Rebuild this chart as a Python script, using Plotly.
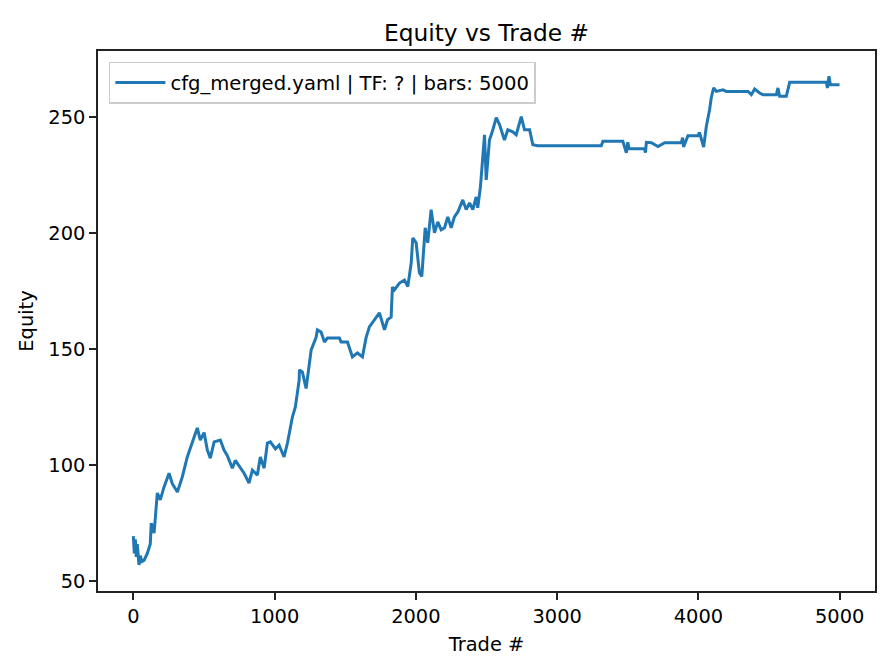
import plotly.graph_objects as go

# Trade number and equity values
trade_idx = [0, 7, 14, 21, 28, 40, 50, 60, 76, 99, 120, 127, 147, 170, 191, 217, 253, 276, 312, 347,
             382, 404, 430, 453, 474, 501, 524, 545, 572, 616, 642, 666, 701, 722, 758, 784, 819, 843,
             878, 899, 926, 949, 970, 1006, 1032, 1067, 1091, 1110, 1126, 1147, 1174, 1176, 1197, 1223,
             1259, 1294, 1303, 1329, 1353, 1374, 1459, 1471, 1516, 1551, 1586, 1622, 1648, 1671, 1707,
             1742, 1778, 1799, 1825, 1834, 1848, 1884, 1919, 1943, 1967, 1978, 2002, 2025, 2042, 2066,
             2084, 2108, 2132, 2155, 2179, 2203, 2226, 2250, 2273, 2297, 2332, 2356, 2380, 2403, 2427,
             2438, 2457, 2474, 2486, 2498, 2521, 2545, 2569, 2592, 2627, 2651, 2686, 2710, 2746, 2769,
             2805, 2828, 2863, 3312, 3324, 3465, 3477, 3490, 3500, 3510, 3619, 3625, 3632, 3667, 3714,
             3761, 3879, 3888, 3895, 3926, 3997, 4008, 4037, 4056, 4079, 4091, 4108, 4127, 4174, 4198,
             4351, 4375, 4398, 4433, 4457, 4552, 4563, 4575, 4622, 4646, 4906, 4913, 4924, 4934, 4999]
equity = [69.4, 62, 68, 60.5, 66, 57, 61, 58.5, 59, 62, 66, 75, 70.7, 88, 85, 90.5, 96.5, 92, 88.4, 95,
          103.5, 107.8, 112, 116, 110.8, 114, 106.5, 103, 110, 110.8, 106.5, 104, 98.7, 102, 99, 96.5,
          92.3, 97.8, 95.7, 103.5, 98.7, 109.5, 110, 107, 108.6, 103.5, 109.5, 115, 120.7, 125, 136.6,
          141, 140, 133, 149.6, 155, 158.2, 157.3, 153, 154.7, 154.7, 153, 153, 146.6, 148.3, 146.6,
          155, 159.5, 162.5, 165.5, 158.2, 162.5, 163.8, 176.7, 175.4, 178.4, 179.7, 176.9, 187, 197.8,
          195.7, 182.8, 181.2, 202.2, 195.7, 210, 200, 204.7, 201.3, 202.2, 206.9, 202.2, 206.9, 209,
          214.2, 210, 212.9, 210, 215.5, 210.8, 219.8, 232.8, 242.2, 222.8, 240, 244.4, 249.6, 246.6,
          240, 244.4, 243.5, 242.2, 250, 244.4, 244.4, 237.9, 237.5, 237.5, 239.4, 239.4, 236.6, 234.5,
          239, 236.2, 236.2, 234.5, 239, 238.8, 237.2, 238.8, 238.8, 241, 237, 241.8, 241.8, 243.2,
          236.9, 245.8, 253, 258.2, 262.4, 260.9, 261.6, 260.9, 260.9, 259.5, 261.9, 260.2, 259.5,
          259.5, 262.4, 258.8, 258.8, 264.8, 264.8, 262.4, 267.4, 263.8, 263.8]

x_ticks = [0, 1000, 2000, 3000, 4000, 5000]
y_ticks = [50, 100, 150, 200, 250]
series_name = "cfg_merged.yaml | TF: ? | bars: 5000"

FONT = "DejaVu Sans"

fig = go.Figure()
fig.add_trace(go.Scatter(
    x=trade_idx, y=equity, mode="lines", name=series_name,
    line=dict(color="#1f77b4", width=3),
))

axis_common = dict(
    showline=True, mirror=True, linecolor="#222222", linewidth=1.5,
    ticks="outside", ticklen=7, tickwidth=1.5, tickcolor="#222222",
    showgrid=False, zeroline=False,
    tickfont=dict(family=FONT, size=19.4, color="black"),
)

fig.update_layout(
    width=896, height=672,
    margin=dict(l=98, r=21, t=51, b=81),
    paper_bgcolor="white", plot_bgcolor="white",
    font=dict(family=FONT, size=19.4, color="black"),
    title=dict(text="Equity vs Trade #", x=0.5, xanchor="center", xref="paper",
               y=1 - 33 / 672, yanchor="middle", yref="container",
               font=dict(family=FONT, size=23.3, color="black")),
    xaxis=dict(range=[-250, 5250], tickvals=x_ticks, ticktext=[str(v) for v in x_ticks],
               title=dict(text="Trade #", font=dict(family=FONT, size=19.4), standoff=10),
               **axis_common),
    yaxis=dict(range=[45.8, 278.3], tickvals=y_ticks, ticktext=[str(v) for v in y_ticks],
               title=dict(text="Equity", font=dict(family=FONT, size=19.4), standoff=10),
               **axis_common),
    showlegend=True,
    legend=dict(x=0.014, y=0.98, xanchor="left", yanchor="top",
                bgcolor="rgba(255,255,255,0.8)", bordercolor="#cccccc", borderwidth=1.5,
                font=dict(family=FONT, size=19.6, color="black"),
                itemwidth=50, tracegroupgap=0),
)

fig.write_html("out.html", config={"displayModeBar": False},
               post_script="document.body.style.margin='0';document.body.style.padding='0';")
